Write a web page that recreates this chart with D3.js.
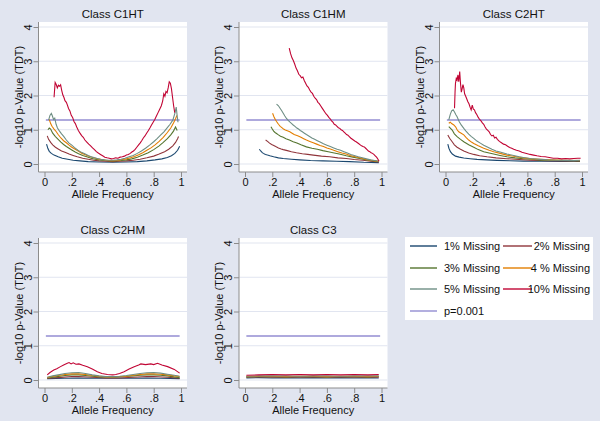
<!DOCTYPE html>
<html>
<head>
<meta charset="utf-8">
<script src="https://cdn.jsdelivr.net/npm/d3@7"></script>
<style>
  body { margin: 0; background: #e1e5f0; }
  svg { display: block; }
  text { font-family: "Liberation Sans", Arial, sans-serif; fill: #111; }
</style>
</head>
<body>
<div class="chart"></div>
<script>
// labels / ticks
const panelTitles = ["Class C1HT", "Class C1HM", "Class C2HT", "Class C2HM", "Class C3"];
const seriesLabels = ["1% Missing", "2% Missing", "3% Missing", "4 % Missing", "5% Missing", "10% Missing"];
const refLabel = "p=0.001";
const xTicks = [0, 0.2, 0.4, 0.6, 0.8, 1];
const yTicks = [0, 1, 2, 3, 4];
const refValue = 1.3;
const refExtent = [0.01, 0.99];

// Class C1HT  [allele freq, -log10 p]
const c1ht_m1 = [[0.015,0.58],[0.025,0.45],[0.035,0.37],[0.050,0.31],[0.070,0.26],[0.100,0.21],[0.130,0.17],[0.170,0.14],[0.210,0.11],[0.260,0.09],[0.320,0.07],[0.400,0.06],[0.500,0.05],[0.600,0.06],[0.680,0.07],[0.750,0.09],[0.810,0.12],[0.860,0.15],[0.900,0.19],[0.930,0.24],[0.955,0.31],[0.975,0.40],[0.990,0.52]];
const c1ht_m2 = [[0.020,0.82],[0.030,0.72],[0.045,0.63],[0.060,0.56],[0.080,0.49],[0.100,0.44],[0.125,0.38],[0.150,0.34],[0.180,0.29],[0.210,0.25],[0.240,0.21],[0.280,0.17],[0.320,0.14],[0.360,0.11],[0.400,0.09],[0.450,0.08],[0.500,0.07],[0.550,0.08],[0.600,0.09],[0.650,0.11],[0.700,0.14],[0.750,0.18],[0.800,0.23],[0.840,0.29],[0.880,0.36],[0.910,0.43],[0.940,0.53],[0.960,0.63],[0.975,0.74],[0.982,0.80]];
const c1ht_m3 = [[0.025,1.00],[0.035,1.05],[0.045,1.02],[0.060,0.90],[0.080,0.80],[0.100,0.72],[0.120,0.64],[0.140,0.57],[0.160,0.51],[0.180,0.46],[0.200,0.41],[0.225,0.35],[0.250,0.30],[0.280,0.25],[0.310,0.21],[0.340,0.17],[0.370,0.14],[0.400,0.12],[0.440,0.10],[0.480,0.09],[0.520,0.09],[0.560,0.10],[0.600,0.12],[0.640,0.15],[0.680,0.20],[0.720,0.26],[0.760,0.33],[0.800,0.42],[0.840,0.53],[0.870,0.63],[0.900,0.74],[0.925,0.85],[0.945,0.96],[0.960,1.08],[0.972,0.98]];
const c1ht_m4 = [[0.035,1.30],[0.045,1.18],[0.055,1.10],[0.070,1.02],[0.085,0.95],[0.100,0.86],[0.120,0.76],[0.140,0.68],[0.160,0.62],[0.180,0.55],[0.200,0.49],[0.225,0.43],[0.250,0.37],[0.275,0.31],[0.300,0.27],[0.330,0.22],[0.360,0.18],[0.390,0.15],[0.420,0.13],[0.450,0.11],[0.480,0.10],[0.510,0.10],[0.540,0.11],[0.570,0.13],[0.600,0.15],[0.630,0.18],[0.660,0.22],[0.690,0.27],[0.720,0.33],[0.750,0.40],[0.780,0.47],[0.810,0.56],[0.840,0.66],[0.870,0.78],[0.900,0.92],[0.925,1.05],[0.945,1.20],[0.960,1.32],[0.970,1.42]];
const c1ht_m5 = [[0.030,1.28],[0.040,1.42],[0.050,1.48],[0.058,1.40],[0.066,1.30],[0.075,1.34],[0.085,1.16],[0.095,1.05],[0.110,0.96],[0.125,0.88],[0.142,0.80],[0.160,0.70],[0.180,0.61],[0.200,0.55],[0.220,0.48],[0.245,0.40],[0.270,0.34],[0.295,0.30],[0.320,0.25],[0.350,0.20],[0.380,0.17],[0.410,0.14],[0.440,0.12],[0.470,0.11],[0.500,0.11],[0.530,0.12],[0.560,0.14],[0.590,0.17],[0.620,0.21],[0.650,0.25],[0.680,0.31],[0.710,0.38],[0.740,0.46],[0.770,0.55],[0.800,0.65],[0.825,0.74],[0.850,0.84],[0.875,0.94],[0.900,1.06],[0.920,1.16],[0.940,1.28],[0.955,1.48],[0.965,1.66],[0.972,1.40],[0.978,1.22]];
const c1ht_m10 = [[0.070,1.95],[0.078,2.38],[0.086,2.32],[0.094,2.22],[0.102,2.30],[0.110,2.27],[0.118,2.31],[0.126,2.15],[0.134,2.02],[0.142,1.95],[0.150,1.85],[0.160,1.80],[0.168,1.72],[0.176,1.62],[0.186,1.55],[0.196,1.42],[0.206,1.36],[0.216,1.24],[0.226,1.18],[0.236,1.08],[0.248,0.98],[0.260,0.90],[0.272,0.83],[0.284,0.78],[0.296,0.70],[0.310,0.64],[0.324,0.58],[0.338,0.53],[0.352,0.47],[0.366,0.42],[0.380,0.36],[0.394,0.32],[0.410,0.28],[0.426,0.24],[0.442,0.20],[0.458,0.18],[0.474,0.17],[0.490,0.15],[0.506,0.16],[0.522,0.18],[0.538,0.17],[0.554,0.20],[0.570,0.21],[0.586,0.23],[0.600,0.26],[0.614,0.28],[0.628,0.31],[0.640,0.35],[0.652,0.38],[0.664,0.43],[0.676,0.49],[0.688,0.55],[0.700,0.61],[0.712,0.68],[0.724,0.76],[0.736,0.82],[0.748,0.90],[0.760,0.97],[0.772,1.05],[0.784,1.14],[0.796,1.22],[0.808,1.30],[0.820,1.40],[0.832,1.50],[0.844,1.60],[0.856,1.70],[0.866,1.84],[0.874,2.05],[0.882,1.98],[0.890,2.12],[0.898,2.08],[0.906,2.22],[0.914,2.40],[0.922,2.36],[0.930,2.20],[0.938,1.95],[0.946,1.70],[0.954,1.50]];

// Class C1HM
const c1hm_m1 = [[0.105,0.43],[0.115,0.38],[0.125,0.34],[0.134,0.31],[0.150,0.28],[0.165,0.26],[0.182,0.24],[0.210,0.21],[0.245,0.18],[0.280,0.16],[0.340,0.14],[0.401,0.12],[0.480,0.10],[0.572,0.09],[0.670,0.08],[0.766,0.07],[0.870,0.05],[0.980,0.04]];
const c1hm_m2 = [[0.151,0.70],[0.165,0.66],[0.180,0.61],[0.195,0.57],[0.207,0.55],[0.225,0.51],[0.245,0.47],[0.265,0.44],[0.280,0.42],[0.310,0.39],[0.340,0.36],[0.377,0.33],[0.420,0.30],[0.460,0.28],[0.500,0.26],[0.560,0.23],[0.620,0.21],[0.680,0.18],[0.742,0.16],[0.800,0.13],[0.864,0.11],[0.920,0.08],[0.980,0.06]];
const c1hm_m3 = [[0.190,1.09],[0.200,1.02],[0.210,0.96],[0.220,0.92],[0.231,0.89],[0.245,0.85],[0.260,0.81],[0.280,0.78],[0.300,0.74],[0.325,0.70],[0.353,0.65],[0.380,0.61],[0.410,0.56],[0.450,0.50],[0.490,0.46],[0.530,0.43],[0.570,0.39],[0.610,0.36],[0.645,0.33],[0.690,0.29],[0.742,0.24],[0.790,0.20],[0.840,0.16],[0.890,0.12],[0.940,0.09],[0.980,0.07]];
const c1hm_m4 = [[0.202,1.48],[0.212,1.38],[0.222,1.30],[0.231,1.24],[0.245,1.16],[0.258,1.10],[0.270,1.06],[0.282,1.02],[0.295,0.99],[0.310,0.97],[0.328,0.94],[0.345,0.90],[0.360,0.86],[0.375,0.84],[0.390,0.82],[0.410,0.78],[0.430,0.74],[0.450,0.70],[0.475,0.66],[0.500,0.62],[0.525,0.58],[0.550,0.54],[0.575,0.51],[0.600,0.47],[0.625,0.44],[0.650,0.40],[0.680,0.36],[0.710,0.32],[0.740,0.29],[0.770,0.25],[0.800,0.22],[0.840,0.18],[0.880,0.14],[0.920,0.11],[0.950,0.09],[0.980,0.08]];
const c1hm_m5 = [[0.231,1.75],[0.245,1.70],[0.258,1.62],[0.268,1.56],[0.280,1.48],[0.292,1.40],[0.304,1.33],[0.318,1.27],[0.330,1.22],[0.342,1.18],[0.353,1.14],[0.366,1.10],[0.380,1.05],[0.392,1.02],[0.405,0.98],[0.420,0.94],[0.435,0.90],[0.450,0.86],[0.470,0.81],[0.490,0.76],[0.510,0.72],[0.530,0.68],[0.550,0.64],[0.575,0.59],[0.600,0.55],[0.625,0.51],[0.650,0.47],[0.675,0.43],[0.700,0.40],[0.725,0.36],[0.750,0.32],[0.775,0.28],[0.800,0.25],[0.830,0.21],[0.860,0.18],[0.890,0.15],[0.920,0.12],[0.950,0.10],[0.980,0.08]];
const c1hm_m10 = [[0.324,3.38],[0.334,3.22],[0.344,3.10],[0.354,3.02],[0.364,2.92],[0.374,2.80],[0.384,2.72],[0.394,2.62],[0.404,2.58],[0.414,2.52],[0.424,2.54],[0.434,2.44],[0.444,2.36],[0.454,2.28],[0.464,2.24],[0.474,2.16],[0.484,2.10],[0.494,2.06],[0.504,1.98],[0.514,1.92],[0.524,1.88],[0.534,1.80],[0.544,1.76],[0.554,1.70],[0.564,1.64],[0.574,1.58],[0.584,1.52],[0.594,1.46],[0.604,1.42],[0.614,1.36],[0.624,1.32],[0.634,1.26],[0.644,1.22],[0.654,1.16],[0.664,1.14],[0.674,1.10],[0.684,1.06],[0.694,1.04],[0.704,1.00],[0.714,0.98],[0.724,0.94],[0.734,0.90],[0.744,0.86],[0.754,0.84],[0.764,0.80],[0.774,0.76],[0.784,0.73],[0.794,0.70],[0.804,0.67],[0.814,0.65],[0.824,0.62],[0.834,0.59],[0.844,0.56],[0.854,0.53],[0.864,0.51],[0.874,0.50],[0.884,0.46],[0.894,0.42],[0.904,0.38],[0.914,0.36],[0.924,0.33],[0.934,0.31],[0.944,0.28],[0.954,0.24],[0.964,0.20],[0.974,0.14],[0.982,0.08]];

// Class C2HT
const c2ht_m1 = [[0.017,0.58],[0.025,0.46],[0.036,0.36],[0.050,0.29],[0.073,0.23],[0.100,0.20],[0.134,0.175],[0.180,0.155],[0.231,0.135],[0.300,0.12],[0.377,0.105],[0.470,0.095],[0.572,0.085],[0.700,0.08],[0.850,0.078],[0.985,0.075]];
const c2ht_m2 = [[0.017,0.85],[0.030,0.75],[0.049,0.65],[0.065,0.56],[0.085,0.49],[0.110,0.43],[0.134,0.38],[0.170,0.32],[0.207,0.28],[0.250,0.24],[0.304,0.21],[0.370,0.18],[0.450,0.155],[0.540,0.13],[0.620,0.11],[0.750,0.095],[0.880,0.088],[0.985,0.085]];
const c2ht_m3 = [[0.024,1.09],[0.035,1.05],[0.049,0.99],[0.065,0.88],[0.085,0.80],[0.110,0.72],[0.134,0.65],[0.170,0.56],[0.207,0.49],[0.240,0.42],[0.280,0.36],[0.320,0.32],[0.353,0.29],[0.400,0.25],[0.450,0.21],[0.510,0.18],[0.572,0.155],[0.650,0.13],[0.693,0.11],[0.800,0.10],[0.900,0.095],[0.985,0.09]];
const c2ht_m4 = [[0.024,1.19],[0.035,1.22],[0.045,1.18],[0.061,1.14],[0.075,1.08],[0.085,1.00],[0.097,0.94],[0.115,0.90],[0.134,0.85],[0.150,0.78],[0.170,0.70],[0.190,0.64],[0.207,0.60],[0.240,0.53],[0.280,0.46],[0.320,0.40],[0.353,0.36],[0.400,0.31],[0.450,0.26],[0.510,0.22],[0.572,0.18],[0.630,0.15],[0.693,0.135],[0.780,0.12],[0.880,0.11],[0.985,0.10]];
const c2ht_m5 = [[0.024,1.29],[0.035,1.45],[0.045,1.55],[0.056,1.58],[0.066,1.52],[0.076,1.44],[0.085,1.38],[0.100,1.24],[0.115,1.14],[0.134,1.04],[0.150,0.96],[0.170,0.87],[0.190,0.80],[0.207,0.75],[0.230,0.67],[0.255,0.61],[0.280,0.55],[0.310,0.49],[0.340,0.43],[0.370,0.38],[0.400,0.35],[0.450,0.29],[0.500,0.25],[0.540,0.21],[0.572,0.19],[0.620,0.16],[0.693,0.135],[0.750,0.12],[0.815,0.11],[0.880,0.105],[0.940,0.10],[0.985,0.11]];
const c2ht_m10 = [[0.066,1.63],[0.070,2.10],[0.073,2.35],[0.079,2.50],[0.085,2.45],[0.091,2.60],[0.097,2.40],[0.104,2.70],[0.110,2.35],[0.116,2.10],[0.122,2.20],[0.128,2.32],[0.134,2.22],[0.140,2.05],[0.148,1.98],[0.156,1.90],[0.164,1.82],[0.172,1.76],[0.180,1.66],[0.188,1.58],[0.196,1.72],[0.204,1.60],[0.212,1.58],[0.220,1.50],[0.230,1.44],[0.240,1.36],[0.250,1.30],[0.260,1.26],[0.270,1.20],[0.280,1.16],[0.290,1.08],[0.300,1.02],[0.310,0.98],[0.320,0.94],[0.330,0.86],[0.340,0.82],[0.350,0.84],[0.360,0.76],[0.370,0.78],[0.380,0.72],[0.395,0.66],[0.410,0.62],[0.425,0.58],[0.440,0.56],[0.455,0.52],[0.470,0.48],[0.485,0.46],[0.500,0.43],[0.520,0.40],[0.540,0.38],[0.560,0.34],[0.580,0.32],[0.600,0.30],[0.620,0.28],[0.645,0.26],[0.670,0.24],[0.700,0.22],[0.730,0.21],[0.760,0.19],[0.790,0.17],[0.820,0.17],[0.850,0.15],[0.880,0.16],[0.910,0.15],[0.940,0.16],[0.970,0.17],[0.990,0.17]];

// Class C2HM
const c2hm_m1 = [[0.020,0.04],[0.150,0.05],[0.250,0.06],[0.400,0.05],[0.500,0.05],[0.600,0.05],[0.750,0.06],[0.850,0.05],[0.990,0.04]];
const c2hm_m2 = [[0.020,0.05],[0.100,0.07],[0.200,0.10],[0.250,0.10],[0.350,0.08],[0.450,0.06],[0.550,0.06],[0.650,0.08],[0.750,0.10],[0.800,0.10],[0.900,0.08],[0.990,0.05]];
const c2hm_m3 = [[0.020,0.06],[0.080,0.09],[0.150,0.13],[0.200,0.15],[0.250,0.15],[0.300,0.13],[0.350,0.11],[0.400,0.09],[0.500,0.08],[0.600,0.10],[0.650,0.12],[0.700,0.14],[0.750,0.15],[0.800,0.15],[0.850,0.14],[0.900,0.12],[0.950,0.09],[0.990,0.07]];
const c2hm_m4 = [[0.020,0.07],[0.060,0.10],[0.100,0.13],[0.150,0.16],[0.200,0.18],[0.250,0.18],[0.300,0.16],[0.350,0.13],[0.400,0.11],[0.450,0.09],[0.500,0.09],[0.550,0.10],[0.600,0.11],[0.650,0.14],[0.700,0.16],[0.750,0.18],[0.800,0.18],[0.850,0.17],[0.900,0.15],[0.950,0.12],[0.990,0.10]];
const c2hm_m5 = [[0.020,0.08],[0.060,0.12],[0.100,0.15],[0.150,0.19],[0.200,0.21],[0.250,0.22],[0.300,0.19],[0.350,0.15],[0.400,0.12],[0.450,0.10],[0.500,0.10],[0.550,0.11],[0.600,0.13],[0.650,0.16],[0.700,0.19],[0.750,0.21],[0.800,0.22],[0.850,0.20],[0.900,0.17],[0.950,0.14],[0.990,0.11]];
const c2hm_m10 = [[0.020,0.15],[0.040,0.22],[0.068,0.29],[0.090,0.33],[0.117,0.39],[0.140,0.44],[0.167,0.49],[0.180,0.51],[0.195,0.47],[0.210,0.50],[0.230,0.46],[0.252,0.47],[0.280,0.43],[0.314,0.39],[0.350,0.32],[0.387,0.24],[0.420,0.19],[0.461,0.16],[0.500,0.15],[0.522,0.16],[0.550,0.19],[0.583,0.24],[0.620,0.32],[0.657,0.39],[0.690,0.44],[0.706,0.47],[0.740,0.45],[0.779,0.47],[0.800,0.45],[0.828,0.49],[0.860,0.44],[0.902,0.39],[0.951,0.31],[0.990,0.20]];

// Class C3
const c3_m1 = [[0.010,0.06],[0.100,0.07],[0.200,0.06],[0.300,0.07],[0.400,0.06],[0.500,0.07],[0.600,0.06],[0.700,0.07],[0.800,0.06],[0.900,0.07],[0.980,0.06]];
const c3_m2 = [[0.010,0.08],[0.100,0.09],[0.200,0.08],[0.300,0.09],[0.400,0.08],[0.500,0.09],[0.600,0.08],[0.700,0.09],[0.800,0.08],[0.900,0.09],[0.980,0.08]];
const c3_m3 = [[0.010,0.09],[0.100,0.10],[0.200,0.10],[0.300,0.09],[0.400,0.10],[0.500,0.10],[0.600,0.09],[0.700,0.10],[0.800,0.10],[0.900,0.09],[0.980,0.10]];
const c3_m4 = [[0.010,0.10],[0.100,0.11],[0.200,0.11],[0.300,0.10],[0.400,0.11],[0.500,0.11],[0.600,0.10],[0.700,0.11],[0.800,0.11],[0.900,0.10],[0.980,0.11]];
const c3_m5 = [[0.010,0.11],[0.100,0.12],[0.200,0.12],[0.300,0.12],[0.400,0.11],[0.500,0.12],[0.600,0.12],[0.700,0.11],[0.800,0.12],[0.900,0.12],[0.980,0.12]];
const c3_m10 = [[0.010,0.14],[0.100,0.15],[0.200,0.16],[0.300,0.15],[0.400,0.16],[0.500,0.15],[0.600,0.16],[0.700,0.15],[0.800,0.16],[0.900,0.15],[0.980,0.16]];

const panelSeries = [
  [c1ht_m1, c1ht_m2, c1ht_m3, c1ht_m4, c1ht_m5, c1ht_m10],
  [c1hm_m1, c1hm_m2, c1hm_m3, c1hm_m4, c1hm_m5, c1hm_m10],
  [c2ht_m1, c2ht_m2, c2ht_m3, c2ht_m4, c2ht_m5, c2ht_m10],
  [c2hm_m1, c2hm_m2, c2hm_m3, c2hm_m4, c2hm_m5, c2hm_m10],
  [c3_m1, c3_m2, c3_m3, c3_m4, c3_m5, c3_m10]
];

// stata s2color
const colors = ["#1a476f", "#90353b", "#55752f", "#e37e00", "#6e8e84", "#c10534"];
const refColor = "#938dd2";
const bg = "#e1e5f0";

const W = 600, H = 421;

let svg = d3.select('.chart')
  .append('svg')
  .attr('width', W)
  .attr('height', H);

svg.append('rect').attr('width', W).attr('height', H).attr('fill', bg);

const fmt = d => d === 0 ? "0" : d === 1 ? "1" : d3.format(".1f")(d).replace(/^0/, "");

panelTitles.forEach(function(title, i) {
  let col = i % 3, row = Math.floor(i / 3);
  let ox = col * 200.5, oy = row * 216;
  let left = ox + 38.5, right = ox + 187, top = oy + 22, bottom = oy + 172;

  let x = d3.scaleLinear().domain([0, 1]).range([ox + 44.5, ox + 181]);
  let y = d3.scaleLinear().domain([0, 4]).range([oy + 164, oy + 27]);

  let g = svg.append('g');

  g.append('rect')
    .attr('x', left).attr('y', top)
    .attr('width', right - left).attr('height', bottom - top)
    .attr('fill', 'white');

  // gridlines
  g.selectAll('.grid')
    .data(yTicks)
    .enter()
    .append('line')
    .attr('class', 'grid')
    .attr('x1', left).attr('x2', right)
    .attr('y1', d => y(d)).attr('y2', d => y(d))
    .attr('stroke', bg)
    .attr('stroke-width', 1.2);

  // axes
  let yAxis = g.append('g')
    .attr('transform', 'translate(' + left + ',0)')
    .call(d3.axisLeft(y).tickValues(yTicks).tickSize(5).tickSizeOuter(0).tickFormat(d3.format('d')));
  yAxis.select('.domain').remove();
  yAxis.selectAll('line').attr('stroke', '#8c8c8c');
  yAxis.selectAll('text')
    .attr('x', null).attr('dy', null)
    .attr('transform', 'translate(-7,0) rotate(-90)')
    .attr('text-anchor', 'middle')
    .attr('font-size', '11px');

  let xAxis = g.append('g')
    .attr('transform', 'translate(0,' + bottom + ')')
    .call(d3.axisBottom(x).tickValues(xTicks).tickSize(5).tickSizeOuter(0).tickPadding(1).tickFormat(fmt));
  xAxis.select('.domain').remove();
  xAxis.selectAll('line').attr('stroke', '#8c8c8c');
  xAxis.selectAll('text').attr('font-size', '11px');

  g.append('line')
    .attr('x1', left).attr('x2', left).attr('y1', top).attr('y2', bottom)
    .attr('stroke', '#8c8c8c');
  g.append('line')
    .attr('x1', left).attr('x2', right).attr('y1', bottom).attr('y2', bottom)
    .attr('stroke', '#8c8c8c');

  // series
  let lineFun = d3.line()
    .x(d => x(d[0]))
    .y(d => y(d[1]))
    .curve(d3.curveLinear);

  // p=0.001 reference (under the curves)
  g.append('path')
    .attr('d', lineFun(refExtent.map(f => [f, refValue])))
    .attr('transform', 'translate(0,0.5)')
    .attr('stroke', refColor)
    .attr('stroke-width', 1.4)
    .attr('fill', 'none');

  g.selectAll('.series')
    .data(panelSeries[i])
    .enter()
    .append('path')
    .attr('class', 'series')
    .attr('d', d => lineFun(d))
    .attr('stroke', (d, k) => colors[k])
    .attr('stroke-width', 1.1)
    .attr('fill', 'none');

  // titles
  g.append('text')
    .text(title)
    .attr('x', ox + 112.75).attr('y', oy + 17.5)
    .attr('text-anchor', 'middle')
    .attr('font-size', '11.5px');

  g.append('text')
    .text('Allele Frequency')
    .attr('x', ox + 112.75).attr('y', oy + 197.5)
    .attr('text-anchor', 'middle')
    .attr('font-size', '11px');

  g.append('text')
    .text('-log10 p-Value (TDT)')
    .attr('transform', 'translate(' + (ox + 22.5) + ',' + (oy + 97) + ') rotate(-90)')
    .attr('text-anchor', 'middle')
    .attr('font-size', '11px');
});

// legend
let legend = svg.append('g');
legend.append('rect')
  .attr('x', 405).attr('y', 237)
  .attr('width', 188).attr('height', 83)
  .attr('fill', 'white');

let items = seriesLabels.map((s, k) => ({label: s, color: colors[k]}))
  .concat([{label: refLabel, color: refColor}]);

let rowY = d3.scaleLinear().domain([0, 3]).range([246, 311]);

items.forEach(function(d, k) {
  let c = k % 2, r = Math.floor(k / 2);
  let yy = rowY(r);
  let ly = Math.round(yy);
  if (c === 0) {
    legend.append('line').attr('x1', 410).attr('x2', 437).attr('y1', ly).attr('y2', ly)
      .attr('stroke', d.color).attr('stroke-width', 1.4);
    legend.append('text').text(d.label)
      .attr('x', 444).attr('y', yy).attr('dy', '.35em')
      .attr('font-size', '11px');
  } else {
    legend.append('line').attr('x1', 503).attr('x2', 532).attr('y1', ly).attr('y2', ly)
      .attr('stroke', d.color).attr('stroke-width', 1.4);
    legend.append('text').text(d.label)
      .attr('x', 590).attr('y', yy).attr('dy', '.35em')
      .attr('text-anchor', 'end')
      .attr('font-size', '11px');
  }
});
</script>
</body>
</html>
